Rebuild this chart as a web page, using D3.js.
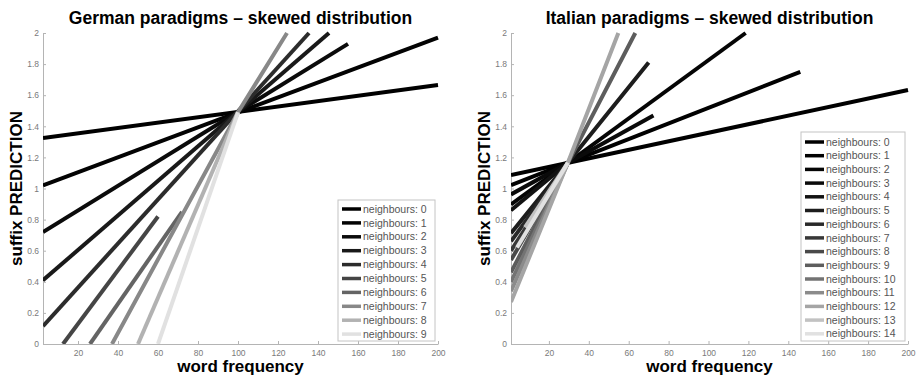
<!DOCTYPE html>
<html>
<head>
 <meta charset="UTF-8">
 <title>Suffix prediction - skewed distribution</title>
 <script src="https://d3js.org/d3.v7.min.js"></script>
 <style>
  body { margin: 0; background: #fff; }
  text { font-family: "Liberation Sans", Arial, sans-serif; }
 </style>
</head>
<body>
<script type="text/javascript">
// ---- data ----
var titles = ["German paradigms \u2013 skewed distribution", "Italian paradigms \u2013 skewed distribution"];
var xLabel = "word frequency";
var yLabel = "suffix PREDICTION";
var xTicks = [20, 40, 60, 80, 100, 120, 140, 160, 180, 200];
var yTicks = [0, 0.2, 0.4, 0.6, 0.8, 1, 1.2, 1.4, 1.6, 1.8, 2];
var germanNeighbours = [0, 1, 2, 3, 4, 5, 6, 7, 8, 9];
var italianNeighbours = [0, 1, 2, 3, 4, 5, 6, 7, 8, 9, 10, 11, 12, 13, 14];
var germanXMin = 2.5;
var italianXMin = 1;

// one polyline per neighbour count: [frequency, prediction]
var germanLines = [
  [[2.5, 1.325], [200, 1.665]],
  [[2.5, 1.02], [200, 1.97]],
  [[2.5, 0.72], [155, 1.93]],
  [[2.5, 0.41], [145.5, 2.0]],
  [[2.5, 0.115], [135.5, 2.0]],
  [[12.5, 0], [60, 0.82]],
  [[26, 0], [72, 0.85]],
  [[37, 0], [100, 1.49], [124.5, 2.0]],
  [[50, 0], [100, 1.49]],
  [[60, 0], [100, 1.49]]
];
var italianLines = [
  [[1, 1.087], [200, 1.633]],
  [[1, 1.022], [146, 1.75]],
  [[1, 0.898], [118.6, 2.0]],
  [[1, 0.962], [72.4, 1.47]],
  [[1, 0.86], [29.5, 1.165]],
  [[1, 0.712], [29.5, 1.165], [70, 1.81]],
  [[1, 0.66], [29.5, 1.165]],
  [[1, 0.60], [29.5, 1.165]],
  [[1, 0.54], [29.5, 1.165]],
  [[1, 0.461], [29.5, 1.165], [63.3, 2.0]],
  [[1, 0.40], [29.5, 1.165]],
  [[1, 0.34], [29.5, 1.165]],
  [[1, 0.27], [29.5, 1.165], [54.8, 2.0]],
  [[8, 0.75], [29.5, 1.165]],
  [[4, 0.62], [29.5, 1.165]]
];

var width = 918, height = 375;
var svg = d3.select("body").append("svg")
  .attr("width", width)
  .attr("height", height);

function drawPanel(idx, lines, neighbours, xMin, xRange, legendBox) {
  var x = d3.scaleLinear().domain([xMin, 200]).range(xRange);
  var y = d3.scaleLinear().domain([0, 2]).range([344, 33]);
  var n = neighbours.length;
  var grey = d3.scalePow().exponent(2).domain([0, n - 1]).range([0, 225]);
  var colour = function (k) { var g = Math.round(grey(k)); return d3.rgb(g, g, g).toString(); };

  var g = svg.append("g");

  // axes (only left and bottom, ticks pointing in)
  var xa = g.append("g")
    .attr("transform", "translate(0," + y(0) + ")")
    .call(d3.axisBottom(x).tickValues(xTicks).tickSizeInner(-3).tickSizeOuter(0).tickPadding(6));
  var ya = g.append("g")
    .attr("transform", "translate(" + x(xMin) + ",0)")
    .call(d3.axisLeft(y).tickValues(yTicks).tickSizeInner(-3).tickSizeOuter(0).tickPadding(4)
      .tickFormat(function (d) { return String(+d.toFixed(1)); }));
  [xa, ya].forEach(function (a) {
    a.select(".domain").attr("stroke", "#b4b4b4");
    a.selectAll(".tick line").attr("stroke", "#b4b4b4");
    a.selectAll(".tick text").attr("fill", "#7a7a7a").style("font-size", "8.5px");
  });

  // clip lines to the plot area
  g.append("clipPath").attr("id", "clip" + idx)
    .append("rect")
    .attr("x", x(xMin)).attr("y", y(2) - 3)
    .attr("width", x(200) - x(xMin) + 3).attr("height", y(0) - y(2) + 3);

  var line = d3.line()
    .x(function (d) { return x(d[0]); })
    .y(function (d) { return y(d[1]); });

  g.append("g").attr("clip-path", "url(#clip" + idx + ")")
    .selectAll("path")
    .data(lines)
    .enter()
    .append("path")
    .attr("d", line)
    .attr("fill", "none")
    .attr("stroke", function (d, i) { return colour(i); })
    .attr("stroke-width", 4)
    .attr("stroke-linecap", "butt");

  // titles and labels
  var cx = (xRange[0] + xRange[1]) / 2;
  g.append("text")
    .attr("x", cx).attr("y", 24)
    .attr("text-anchor", "middle")
    .style("font-size", "17.5px").style("font-weight", "bold")
    .text(titles[idx]);
  g.append("text")
    .attr("x", cx).attr("y", 372)
    .attr("text-anchor", "middle")
    .style("font-size", "17px").style("font-weight", "bold")
    .text(xLabel);
  g.append("text")
    .attr("transform", "translate(" + (xRange[0] - 21) + "," + ((y(0) + y(2)) / 2) + ") rotate(-90)")
    .attr("text-anchor", "middle")
    .style("font-size", "17px").style("font-weight", "bold")
    .text(yLabel);

  // legend
  var lg = g.append("g");
  lg.append("rect")
    .attr("x", legendBox.x).attr("y", legendBox.y)
    .attr("width", legendBox.w).attr("height", legendBox.h)
    .attr("fill", "#fff").attr("stroke", "#c4c4c4").attr("stroke-width", 1);
  var item = lg.selectAll("g.item")
    .data(neighbours)
    .enter()
    .append("g")
    .attr("class", "item")
    .attr("transform", function (d, i) {
      return "translate(" + legendBox.x + "," + (legendBox.first + i * legendBox.step) + ")";
    });
  item.append("line")
    .attr("x1", 4).attr("x2", 23)
    .attr("stroke", function (d, i) { return colour(i); })
    .attr("stroke-width", 3.5);
  item.append("text")
    .attr("x", 25).attr("dy", "0.35em")
    .attr("fill", "#555")
    .style("font-size", "10.5px")
    .text(function (d) { return "neighbours: " + d; });
}

drawPanel(0, germanLines, germanNeighbours, germanXMin, [43, 438],
  { x: 338, y: 200, w: 97, h: 141, first: 209, step: 13.9 });
drawPanel(1, italianLines, italianNeighbours, italianXMin, [511, 908],
  { x: 801, y: 132, w: 104, h: 209, first: 142, step: 13.7 });
</script>
</body>
</html>
